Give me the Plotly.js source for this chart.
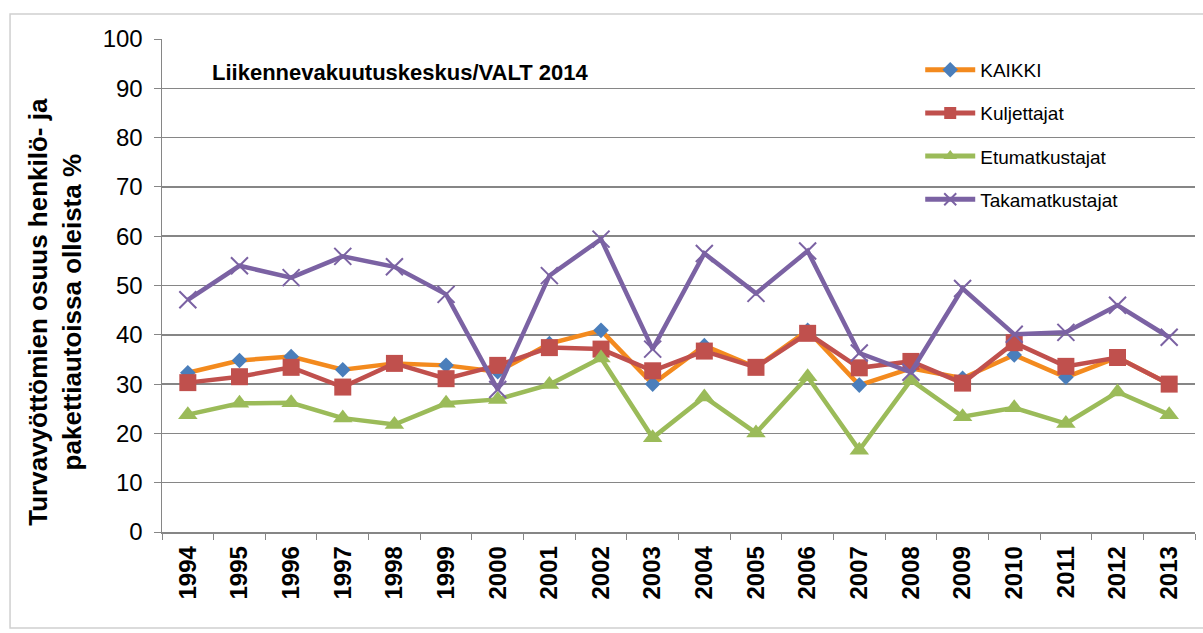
<!DOCTYPE html>
<html><head><meta charset="utf-8">
<script src="https://cdn.plot.ly/plotly-3.0.1.min.js"></script>
<style>body{margin:0;background:#fff;overflow:hidden}#chart{width:1203px;height:633px}</style>
</head><body><div id="chart"></div>
<script>
const years = ['1994','1995','1996','1997','1998','1999','2000','2001','2002','2003','2004','2005','2006','2007','2008','2009','2010','2011','2012','2013'];
const kaikki = [32.3,34.8,35.6,32.9,34.2,33.8,32.5,38.2,40.9,30.0,37.8,33.4,40.9,29.8,33.2,31.2,35.9,31.4,35.4,30.0];
const kuljettajat = [30.3,31.5,33.4,29.4,34.2,31.1,33.8,37.4,37.1,32.7,36.7,33.4,40.3,33.3,34.6,30.2,38.4,33.6,35.4,30.0];
const etumatkustajat = [23.8,26.1,26.2,23.1,21.8,26.1,26.9,29.9,35.3,19.1,27.4,20.1,31.5,16.6,30.8,23.4,25.2,22.0,28.4,23.8];
const takamatkustajat = [47.1,54.0,51.6,55.9,53.8,48.2,28.9,52.0,59.4,37.1,56.5,48.4,57.0,36.3,32.4,49.4,40.1,40.5,46.0,39.5];
const seriesNames = ['KAIKKI','Kuljettajat','Etumatkustajat','Takamatkustajat'];
const yTitle = 'Turvavyöttömien osuus henkilö- ja<br>pakettiautoissa olleista %';
const sourceNote = 'Liikennevakuutuskeskus/VALT 2014';

const FONT = 'Arial, "Liberation Sans", sans-serif';
function tr(name, y, lineColor, mSymbol, mColor, mSize, grp, mLine) {
  return {x: years, y: y, name: name, type: 'scatter', mode: 'lines+markers',
    legendgroup: grp,
    line: {color: lineColor, width: 4.5},
    marker: {symbol: mSymbol, color: mColor, size: mSize, line: mLine || {width: 0}}};
}
const data = [
  tr(seriesNames[0], kaikki, '#F38A1E', 'diamond', '#4A7EBB', 12, 'a'),
  tr(seriesNames[1], kuljettajat, '#C0504D', 'square', '#C0504D', 17, 'b'),
  tr(seriesNames[2], etumatkustajat, '#9BBB59', 'triangle-up', '#9BBB59', 17, 'c'),
  tr(seriesNames[3], takamatkustajat, '#7B62A3', 'x-thin', '#7B62A3', 17, 'd', {color: '#7B62A3', width: 2})
];
const layout = {
  width: 1203, height: 633,
  margin: {l: 162, r: 8, t: 39, b: 101},
  paper_bgcolor: '#fff', plot_bgcolor: '#fff',
  font: {family: FONT, color: '#000'},
  showlegend: true,
  legend: {x: 0.734, y: 0.976, xanchor: 'left', yanchor: 'top', bgcolor: 'rgba(0,0,0,0)',
    font: {family: FONT, size: 19, color: '#000'}, itemwidth: 50, itemsizing: 'constant',
    tracegroupgap: 15.5, traceorder: 'grouped'},
  xaxis: {type: 'category', tickson: 'boundaries', ticks: 'outside', ticklen: 6, tickcolor: '#868686',
    showline: true, linecolor: '#868686', linewidth: 1.5, showgrid: false, tickangle: -90,
    ticklabelstandoff: 3,
    tickfont: {family: FONT, size: 24, color: '#000', weight: 'bold'}, range: [-0.5, 19.5]},
  yaxis: {range: [0, 100], dtick: 10, ticks: 'outside', ticklen: 7, tickcolor: '#868686',
    showline: true, linecolor: '#868686', linewidth: 1.5, gridcolor: '#868686', gridwidth: 1.5,
    ticklabelstandoff: 6,
    tickfont: {family: FONT, size: 24, color: '#000'}, zeroline: false},
  annotations: [
    {text: sourceNote, xref: 'paper', yref: 'paper', x: 0.0465, y: 0.933, xanchor: 'left', yanchor: 'middle',
      showarrow: false, font: {family: FONT, size: 22, color: '#000', weight: 'bold'}},
    {text: yTitle, xref: 'paper', yref: 'paper', x: -0.103, y: 0.446, xanchor: 'center', yanchor: 'middle',
      textangle: -90, showarrow: false, font: {family: FONT, size: 26, color: '#000', weight: 'bold'}}
  ],
  shapes: [{type: 'rect', xref: 'paper', yref: 'paper', x0: -0.1471, x1: 1.0145, y0: -0.1947, y1: 1.0507,
    line: {color: '#D0D0D0', width: 1.5}, fillcolor: 'rgba(0,0,0,0)'}]
};
Plotly.newPlot('chart', data, layout, {displayModeBar: false, staticPlot: true});
</script></body></html>
